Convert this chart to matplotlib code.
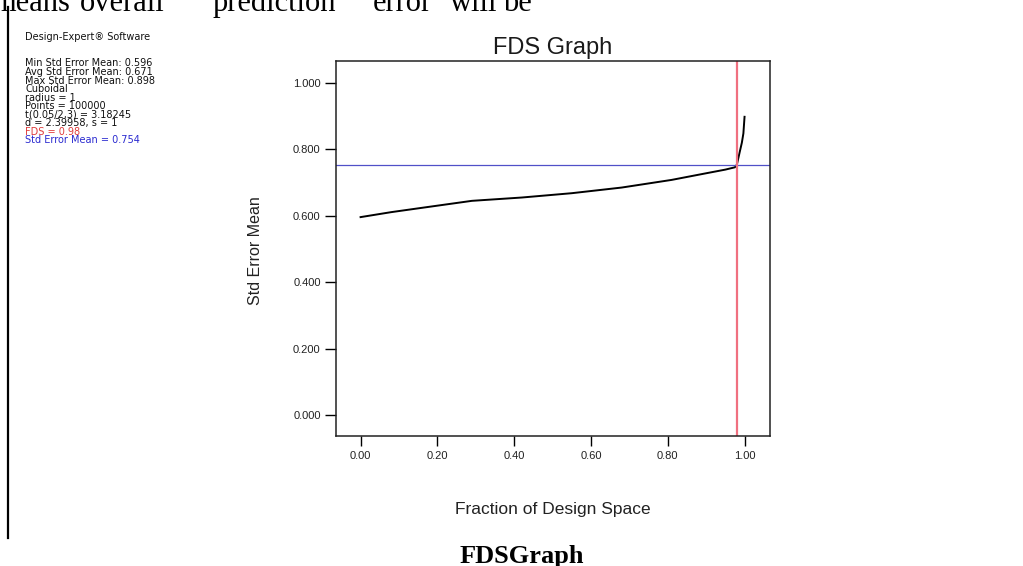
import numpy as np
import matplotlib
matplotlib.use("Agg")
from matplotlib import pyplot as plt
from matplotlib.lines import Line2D

plt.rcParams['font.family'] = ['Liberation Sans', 'DejaVu Sans']

# FDS curve
fraction = [0.00, 0.08, 0.16, 0.29, 0.42, 0.55, 0.68, 0.81, 0.90, 0.95,
            0.975, 0.98, 0.988, 0.993, 0.997, 1.00]
std_err = [0.596, 0.611, 0.624, 0.645, 0.655, 0.668, 0.685, 0.708, 0.728, 0.739,
           0.746, 0.754, 0.795, 0.820, 0.848, 0.898]

fds_value = 0.98
std_err_at_fds = 0.754

x_ticks = [0.0, 0.2, 0.4, 0.6, 0.8, 1.0]
y_ticks = [0.0, 0.2, 0.4, 0.6, 0.8, 1.0]

info_lines = ["Min Std Error Mean: 0.596",
              "Avg Std Error Mean: 0.671",
              "Max Std Error Mean: 0.898",
              "Cuboidal",
              "radius = 1",
              "Points = 100000",
              "t(0.05/2,3) = 3.18245",
              "d = 2.39958, s = 1"]

top_words = ["means", "overall", "prediction", "error", "will", "be"]
top_word_x = [-8, 80, 213, 373, 450, 503]

W, H = 1023, 566
fig = plt.figure(figsize=(W / 100, H / 100), dpi=100)
fig.patch.set_facecolor('white')

ax = fig.add_axes([336 / W, 1 - 436 / H, (769.5 - 336) / W, (436 - 61) / H])
ax.plot(fraction, std_err, color='black', lw=1.4)
ax.axhline(std_err_at_fds, color='#5050c8', lw=0.9)
ax.axvline(fds_value, color='#f07080', lw=1.6)

ax.set_xlim(-0.064, 1.065)
ax.set_ylim(-0.063, 1.066)
ax.set_xticks(x_ticks)
ax.set_xticklabels([f"{v:.2f}" for v in x_ticks])
ax.set_yticks(y_ticks)
ax.set_yticklabels([f"{v:.3f}" for v in y_ticks])
ax.tick_params(axis='x', direction='out', length=7, width=1, pad=4,
               labelsize=8, labelcolor='#222222')
ax.tick_params(axis='y', direction='out', length=8, width=1, pad=3,
               labelsize=8, labelcolor='#222222')
for s in ax.spines.values():
    s.set_linewidth(1.1)
    s.set_color('#222222')

ax.set_title("FDS Graph", fontsize=17, pad=5, color='#1a1a1a')
ax.set_xlabel("Fraction of Design Space", fontsize=12.5, color='#222222')
ax.xaxis.set_label_coords(0.5, (436 - 509.5) / 375)
ax.xaxis.label.set_va('center')
ax.set_ylabel("Std Error Mean", fontsize=11.5, color='#222222')
ax.yaxis.set_label_coords((256 - 336) / 433.5, (436 - 250.5) / 375)
ax.yaxis.label.set_va('center')
ax.yaxis.label.set_ha('center')

# software info block on the left (baseline aligned, tight spacing)
step = 8.55
base0 = 66.5
info_font = dict(fontsize=7, family='DejaVu Sans', ha='left', va='baseline')
fig.text(25 / W, 1 - 40.5 / H, "Design-Expert\u00ae Software", color='#111111', **info_font)
for i, line in enumerate(info_lines):
    fig.text(25 / W, 1 - (base0 + step * i) / H, line, color='#111111', **info_font)
fig.text(25 / W, 1 - (base0 + step * 8) / H, f"FDS = {fds_value:.2f}",
         color='#e03a3a', **info_font)
fig.text(25 / W, 1 - (base0 + step * 9) / H, f"Std Error Mean = {std_err_at_fds:.3f}",
         color='#2a2ad0', **info_font)

# page border line and surrounding document text
fig.add_artist(Line2D([8 / W, 8 / W], [1 - 7 / H, 1 - 538 / H], lw=1.6, color='black'))
for word, xp in zip(top_words, top_word_x):
    fig.text(xp / W, 1 - 11 / H, word, fontsize=22, family='Liberation Serif',
             ha='left', va='baseline', color='black')
fig.text(522 / W, 1 - 563 / H, "FDSGraph", fontsize=19, family='Liberation Serif',
         weight='bold', ha='center', va='baseline', color='black')

fig.savefig("out.png", dpi=100)
